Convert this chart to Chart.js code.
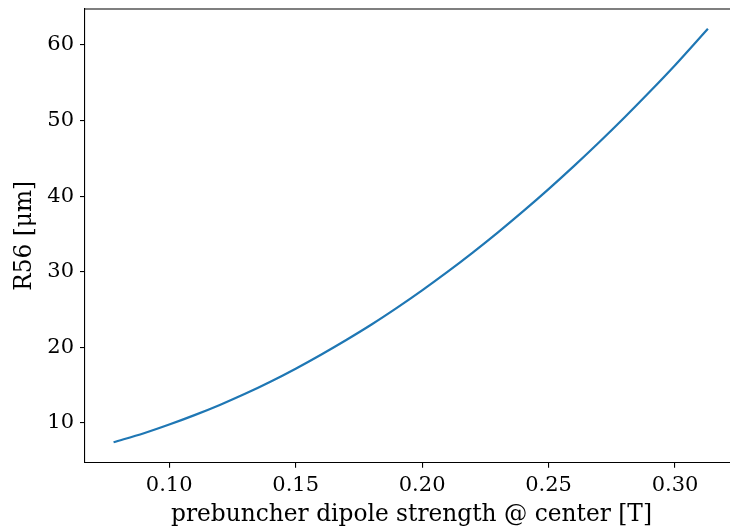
<!DOCTYPE html>
<html>
<head>
<meta charset="utf-8">
<script src="https://cdn.jsdelivr.net/npm/chart.js@4/dist/chart.umd.min.js"></script>
<style>
  html, body { margin: 0; padding: 0; overflow: hidden; background: #fff; }
  #clip { width: 730px; height: 531px; overflow: hidden; }
  #wrap { width: 745px; height: 531px; }
</style>
</head>
<body>
<div id="clip"><div id="wrap"><canvas id="r56Chart"></canvas></div></div>
<script>
// dipole strength [T] and R56 [um]
const fieldT = [0.078, 0.09, 0.10, 0.11, 0.12, 0.13, 0.14, 0.15, 0.16, 0.17, 0.18, 0.19,
                0.20, 0.21, 0.22, 0.23, 0.24, 0.25, 0.26, 0.27, 0.28, 0.29, 0.30, 0.313];
const r56 = [7.41, 8.6, 9.75, 11.0, 12.35, 13.82, 15.42, 17.15, 19.0, 20.95, 23.0, 25.2,
             27.52, 29.96, 32.52, 35.2, 38.0, 40.92, 43.96, 47.12, 50.4, 53.8, 57.32, 62.15];

const xTicks = [0.10, 0.15, 0.20, 0.25, 0.30];
const yTicks = [10, 20, 30, 40, 50, 60];

document.addEventListener('DOMContentLoaded', function() {
  const tickFont = { family: 'DejaVu Serif', size: 21, lineHeight: 1.2 };
  const titleFont = { family: 'DejaVu Serif', size: 23.3, lineHeight: 1.2 };

  // top spine only; the right spine falls outside the 730px picture
  const topSpine = {
    id: 'topSpine',
    afterDraw(chart) {
      const a = chart.chartArea;
      const ctx = chart.ctx;
      ctx.save();
      ctx.strokeStyle = '#000';
      ctx.lineWidth = 1.1;
      ctx.beginPath();
      ctx.moveTo(a.left, a.top);
      ctx.lineTo(chart.width, a.top);
      ctx.stroke();
      ctx.restore();
    }
  };

  const ctx = document.getElementById('r56Chart').getContext('2d');
  new Chart(ctx, {
    type: 'line',
    data: {
      datasets: [{
        data: fieldT.map((x, i) => ({ x: x, y: r56[i] })),
        borderColor: '#1f77b4',
        borderWidth: 2.2,
        pointRadius: 0,
        fill: false,
        cubicInterpolationMode: 'monotone'
      }]
    },
    options: {
      responsive: true,
      maintainAspectRatio: false,
      animation: false,
      devicePixelRatio: 1,
      layout: { padding: { top: 9, right: 7, left: 0, bottom: 0 } },
      plugins: { legend: { display: false }, tooltip: { enabled: false } },
      scales: {
        x: {
          type: 'linear',
          min: 0.0667,
          max: 0.3249,
          afterBuildTicks: s => { s.ticks = xTicks.map(v => ({ value: v })); },
          afterFit: s => { s.height = 68.3; s.paddingLeft = 0; s.paddingRight = 0; },
          grid: { drawOnChartArea: false, drawTicks: true, tickLength: 5, color: '#000', lineWidth: 1.1 },
          border: { display: true, color: '#000', width: 1.1 },
          ticks: {
            color: '#000',
            font: tickFont,
            padding: 5,
            maxRotation: 0,
            callback: v => v.toFixed(2)
          },
          title: {
            display: true,
            text: 'prebuncher dipole strength @ center [T]',
            color: '#000',
            font: titleFont,
            padding: { top: 0, bottom: 2 }
          }
        },
        y: {
          type: 'linear',
          min: 4.70,
          max: 64.77,
          afterBuildTicks: s => { s.ticks = yTicks.map(v => ({ value: v })); },
          afterFit: s => { s.width = 85; s.paddingTop = 0; s.paddingBottom = 0; },
          grid: { drawOnChartArea: false, drawTicks: true, tickLength: 5, color: '#000', lineWidth: 1.1 },
          border: { display: true, color: '#000', width: 1.1 },
          ticks: {
            color: '#000',
            font: tickFont,
            padding: 6,
            callback: v => v.toFixed(0)
          },
          title: {
            display: true,
            text: 'R56 [μm]',
            color: '#000',
            font: titleFont,
            padding: { top: 11, bottom: 0 }
          }
        }
      }
    },
    plugins: [topSpine]
  });
});
</script>
</body>
</html>
